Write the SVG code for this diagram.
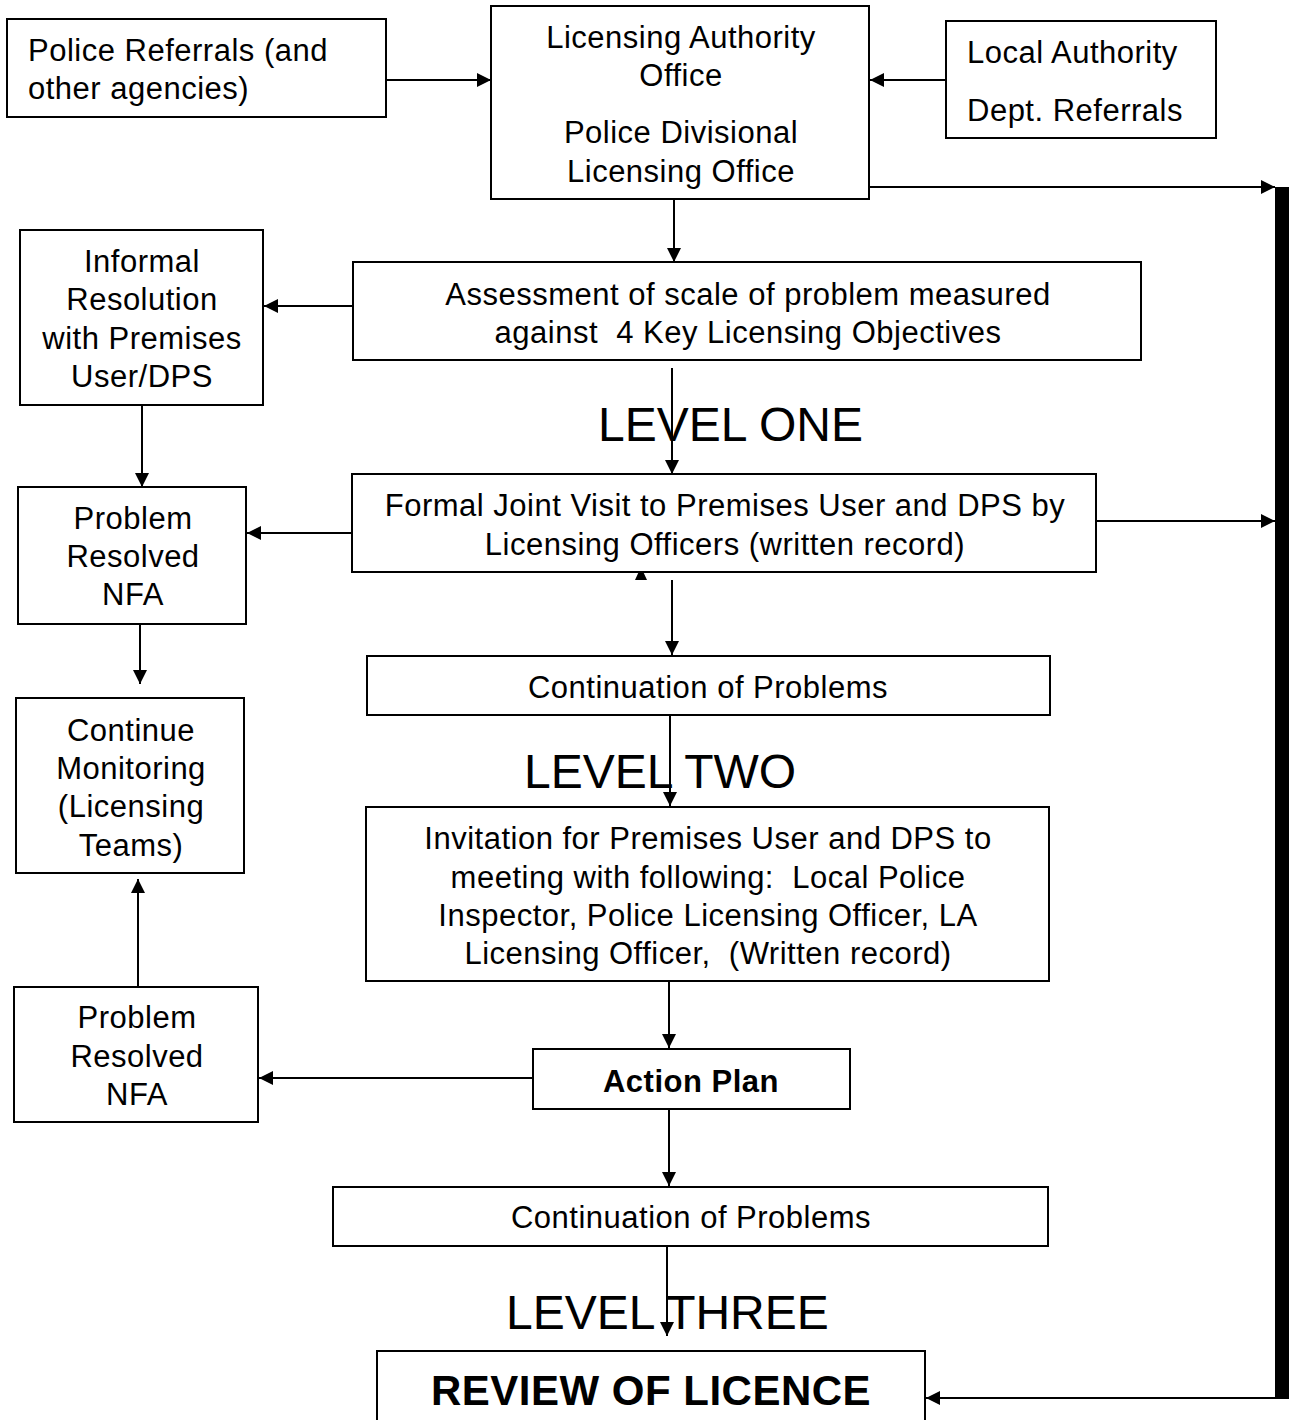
<svg xmlns="http://www.w3.org/2000/svg" width="1290" height="1420" viewBox="0 0 1290 1420">
<style>
rect.b{fill:#fff;stroke:#000;stroke-width:2}
text{font-family:"Liberation Sans",Arial,sans-serif;font-size:31px;letter-spacing:0.5px;fill:#000;white-space:pre}
.c{text-anchor:middle}
.lv{font-size:48px;letter-spacing:0}
.bd{font-weight:bold}
.ln{stroke:#000;stroke-width:2;fill:none}
</style>
<defs>
<marker id="ah" viewBox="0 0 10 10" refX="10" refY="5" markerWidth="14" markerHeight="14" markerUnits="userSpaceOnUse" orient="auto">
<path d="M0,0 L10,5 L0,10 z" fill="#000"/>
</marker>
</defs>
<rect width="1290" height="1420" fill="#fff"/>
<g id="connectors">
<line class="ln" x1="386" y1="80" x2="491" y2="80" marker-end="url(#ah)"/>
<line class="ln" x1="946" y1="80" x2="870" y2="80" marker-end="url(#ah)"/>
<line class="ln" x1="870" y1="187" x2="1275" y2="187" marker-end="url(#ah)"/>
<line class="ln" x1="674" y1="199" x2="674" y2="262" marker-end="url(#ah)"/>
<line class="ln" x1="353" y1="306" x2="264" y2="306" marker-end="url(#ah)"/>
<line class="ln" x1="142" y1="405" x2="142" y2="487" marker-end="url(#ah)"/>
<line class="ln" x1="672" y1="368" x2="672" y2="474" marker-end="url(#ah)"/>
<line class="ln" x1="352" y1="533" x2="247" y2="533" marker-end="url(#ah)"/>
<line class="ln" x1="1096" y1="521" x2="1275" y2="521" marker-end="url(#ah)"/>
<path d="M641,567 L647,580 L635,580 z" fill="#000"/>
<line class="ln" x1="672" y1="580" x2="672" y2="655" marker-end="url(#ah)"/>
<line class="ln" x1="140" y1="624" x2="140" y2="684" marker-end="url(#ah)"/>
<line class="ln" x1="670" y1="715" x2="670" y2="806" marker-end="url(#ah)"/>
<line class="ln" x1="669" y1="981" x2="669" y2="1048" marker-end="url(#ah)"/>
<line class="ln" x1="533" y1="1078" x2="259" y2="1078" marker-end="url(#ah)"/>
<line class="ln" x1="138" y1="987" x2="138" y2="879" marker-end="url(#ah)"/>
<line class="ln" x1="669" y1="1109" x2="669" y2="1186" marker-end="url(#ah)"/>
<line class="ln" x1="667" y1="1246" x2="667" y2="1336" marker-end="url(#ah)"/>
<rect x="1275" y="187" width="14" height="1212" fill="#000"/>
<line class="ln" x1="1276" y1="1398" x2="926" y2="1398" marker-end="url(#ah)"/>
</g>
<g id="police-referrals">
<rect class="b" x="7" y="19" width="379" height="98"/>
<text x="28" y="61">Police Referrals (and</text>
<text x="28" y="99">other agencies)</text>
</g>
<g id="licensing-office">
<rect class="b" x="491" y="6" width="378" height="193"/>
<text class="c" x="681" y="48">Licensing Authority</text>
<text class="c" x="681" y="86">Office</text>
<text class="c" x="681" y="143">Police Divisional</text>
<text class="c" x="681" y="182">Licensing Office</text>
</g>
<g id="local-authority">
<rect class="b" x="946" y="21" width="270" height="117"/>
<text x="967" y="63">Local Authority</text>
<text x="967" y="121">Dept. Referrals</text>
</g>
<g id="assessment">
<rect class="b" x="353" y="262" width="788" height="98"/>
<text class="c" x="748" y="305">Assessment of scale of problem measured</text>
<text class="c" x="748" y="343">against  4 Key Licensing Objectives</text>
</g>
<g id="informal-resolution">
<rect class="b" x="20" y="230" width="243" height="175"/>
<text class="c" x="142" y="272">Informal</text>
<text class="c" x="142" y="310">Resolution</text>
<text class="c" x="142" y="349">with Premises</text>
<text class="c" x="142" y="387">User/DPS</text>
</g>
<g id="level-one">
<text class="lv" x="598" y="441">LEVEL ONE</text>
</g>
<g id="formal-visit">
<rect class="b" x="352" y="474" width="744" height="98"/>
<text class="c" x="725" y="516">Formal Joint Visit to Premises User and DPS by</text>
<text class="c" x="725" y="555">Licensing Officers (written record)</text>
</g>
<g id="problem-resolved-1">
<rect class="b" x="18" y="487" width="228" height="137"/>
<text class="c" x="133" y="529">Problem</text>
<text class="c" x="133" y="567">Resolved</text>
<text class="c" x="133" y="605">NFA</text>
</g>
<g id="continue-monitoring">
<rect class="b" x="16" y="698" width="228" height="175"/>
<text class="c" x="131" y="741">Continue</text>
<text class="c" x="131" y="779">Monitoring</text>
<text class="c" x="131" y="817">(Licensing</text>
<text class="c" x="131" y="856">Teams)</text>
</g>
<g id="continuation-1">
<rect class="b" x="367" y="656" width="683" height="59"/>
<text class="c" x="708" y="698">Continuation of Problems</text>
</g>
<g id="level-two">
<text class="lv" x="524" y="788">LEVEL TWO</text>
</g>
<g id="invitation">
<rect class="b" x="366" y="807" width="683" height="174"/>
<text class="c" x="708" y="849">Invitation for Premises User and DPS to</text>
<text class="c" x="708" y="888">meeting with following:  Local Police</text>
<text class="c" x="708" y="926">Inspector, Police Licensing Officer, LA</text>
<text class="c" x="708" y="964">Licensing Officer,  (Written record)</text>
</g>
<g id="action-plan">
<rect class="b" x="533" y="1049" width="317" height="60"/>
<text class="c bd" x="691" y="1092">Action Plan</text>
</g>
<g id="problem-resolved-2">
<rect class="b" x="14" y="987" width="244" height="135"/>
<text class="c" x="137" y="1028">Problem</text>
<text class="c" x="137" y="1067">Resolved</text>
<text class="c" x="137" y="1105">NFA</text>
</g>
<g id="continuation-2">
<rect class="b" x="333" y="1187" width="715" height="59"/>
<text class="c" x="691" y="1228">Continuation of Problems</text>
</g>
<g id="level-three">
<text class="lv" x="506" y="1329">LEVEL THREE</text>
</g>
<g id="review">
<rect class="b" x="377" y="1351" width="548" height="80"/>
<text class="c bd" x="651" y="1405" style="font-size:42px">REVIEW OF LICENCE</text>
</g>
</svg>
